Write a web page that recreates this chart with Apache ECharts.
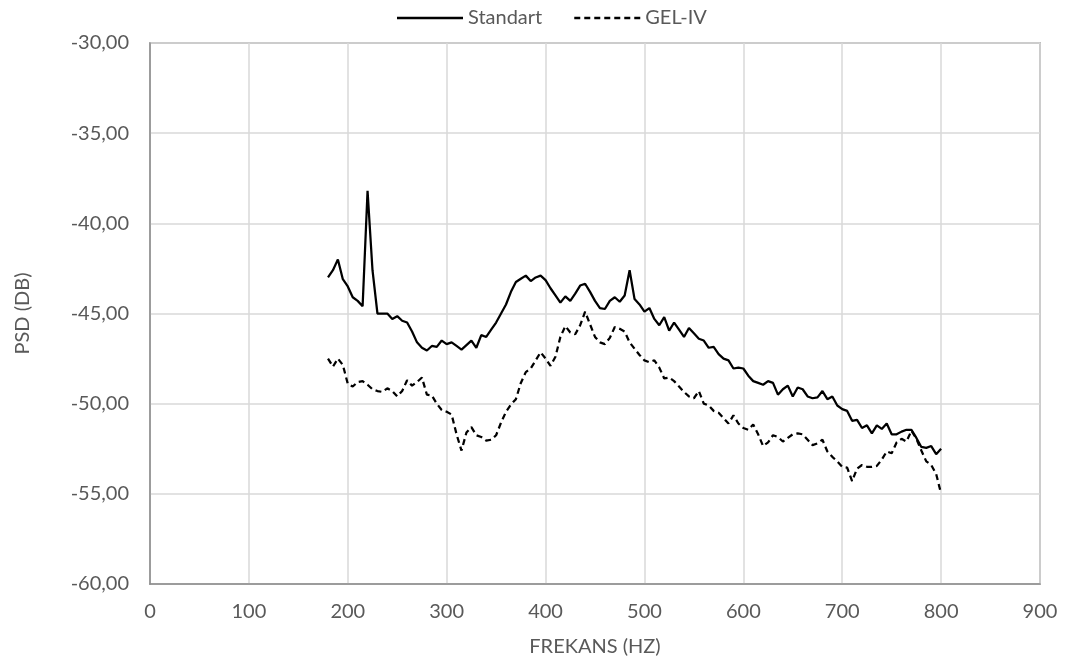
<!DOCTYPE html>
<html><head><meta charset="utf-8">
<script src="https://cdn.jsdelivr.net/npm/echarts@6/dist/echarts.min.js"></script>
<style>html,body{margin:0;padding:0;background:#fff}#c{width:1073px;height:668px}</style>
</head><body><div id="c"></div>
<script>
const seriesNames = ['Standart', 'GEL-IV'];
const freqStart = 180, freqStep = 5;
const standart = [
-43.0,-42.6,-42.0,-43.1,-43.5,-44.1,-44.3,-44.6,-38.2,-42.6,
-45.0,-45.0,-45.0,-45.3,-45.15,-45.4,-45.5,-46.0,-46.6,-46.9,
-47.05,-46.8,-46.85,-46.5,-46.7,-46.6,-46.8,-47.0,-46.75,-46.5,
-46.9,-46.2,-46.3,-45.9,-45.5,-45.0,-44.5,-43.8,-43.25,-43.07,
-42.9,-43.2,-43.0,-42.9,-43.15,-43.6,-44.0,-44.4,-44.05,-44.3,
-43.9,-43.45,-43.35,-43.8,-44.3,-44.7,-44.75,-44.3,-44.1,-44.35,
-44.0,-42.6,-44.2,-44.5,-44.9,-44.7,-45.3,-45.65,-45.2,-45.95,
-45.5,-45.9,-46.3,-45.8,-46.1,-46.4,-46.5,-46.9,-46.85,-47.25,
-47.5,-47.6,-48.05,-48.0,-48.05,-48.45,-48.75,-48.85,-48.95,-48.75,
-48.85,-49.5,-49.2,-49.0,-49.6,-49.1,-49.2,-49.6,-49.7,-49.65,
-49.3,-49.75,-49.6,-50.1,-50.3,-50.4,-50.95,-50.9,-51.35,-51.2,
-51.65,-51.2,-51.4,-51.1,-51.7,-51.7,-51.55,-51.45,-51.45,-51.9,
-52.4,-52.45,-52.35,-52.8,-52.5
];
const gelIV = [
-47.5,-47.95,-47.5,-47.85,-48.9,-49.05,-48.8,-48.75,-48.95,-49.2,
-49.3,-49.35,-49.15,-49.3,-49.6,-49.3,-48.7,-49.0,-48.8,-48.55,
-49.5,-49.55,-50.0,-50.35,-50.45,-50.6,-51.7,-52.6,-51.6,-51.3,
-51.75,-51.85,-52.05,-52.0,-51.75,-51.05,-50.45,-50.05,-49.75,-48.85,
-48.25,-48.05,-47.6,-47.15,-47.5,-47.9,-47.4,-46.3,-45.7,-46.05,
-46.15,-45.65,-44.9,-45.6,-46.3,-46.6,-46.7,-46.35,-45.75,-45.85,
-46.0,-46.6,-46.95,-47.3,-47.6,-47.7,-47.6,-48.0,-48.6,-48.55,
-48.75,-49.05,-49.35,-49.6,-49.7,-49.3,-50.0,-50.1,-50.4,-50.5,
-50.8,-51.1,-50.65,-51.1,-51.35,-51.45,-51.15,-51.7,-52.35,-52.15,
-51.75,-51.85,-52.1,-51.9,-51.7,-51.65,-51.7,-52.0,-52.3,-52.2,
-52.0,-52.65,-52.95,-53.2,-53.5,-53.55,-54.3,-53.6,-53.4,-53.5,
-53.5,-53.45,-53.1,-52.65,-52.75,-52.15,-51.95,-52.1,-51.5,-51.95,
-52.6,-53.2,-53.4,-53.9,-55.0
];
const freqs = standart.map((_, i) => freqStart + i * freqStep);
const xTitle = 'FREKANS (HZ)', yTitle = 'PSD (DB)';

const font = 'Lato, "Open Sans", sans-serif';
const fs = 20;
// legend icons: solid line and dashed line
const solidIcon = 'path://M0,0L66,0L66,2.5L0,2.5Z';
let dashPath = 'path://';
for (let i = 0; i < 7; i++) { const x0 = i * 10; dashPath += `M${x0},0L${x0 + 6},0L${x0 + 6},2.5L${x0},2.5Z`; }
const chart = echarts.init(document.getElementById('c'), null, {renderer: 'canvas'});
chart.setOption({
  animation: false,
  textStyle: {fontFamily: font},
  legend: {
    top: 3, left: 392, itemWidth: 66, itemHeight: 2.5, itemGap: 32,
    textStyle: {color: '#595959', fontSize: fs, fontFamily: font, padding: [0, 0, 0, 0]},
    data: [{name: seriesNames[0], icon: solidIcon}, {name: seriesNames[1], icon: dashPath}]
  },
  grid: {left: 150, right: 33, top: 43, bottom: 84, show: true, borderColor: '#8c8c8c', borderWidth: 1.5},
  xAxis: {
    type: 'value', min: 0, max: 900, interval: 100,
    name: xTitle, nameLocation: 'middle', nameGap: 53,
    nameTextStyle: {color: '#595959', fontSize: fs, fontFamily: font},
    axisLine: {show: true, lineStyle: {color: '#8c8c8c', width: 1.5}},
    axisTick: {show: false},
    axisLabel: {color: '#595959', fontSize: fs, margin: 18, fontFamily: font},
    splitLine: {show: true, lineStyle: {color: '#d9d9d9', width: 1.5}}
  },
  yAxis: {
    type: 'value', min: -60, max: -30, interval: 5,
    name: yTitle, nameLocation: 'middle', nameGap: 117, nameRotate: 90,
    nameTextStyle: {color: '#595959', fontSize: fs, fontFamily: font},
    axisLine: {show: true, lineStyle: {color: '#8c8c8c', width: 1.5}},
    axisTick: {show: false},
    axisLabel: {color: '#595959', fontSize: fs, margin: 21, fontFamily: font,
      formatter: v => v.toFixed(2).replace('.', ',')},
    splitLine: {show: true, lineStyle: {color: '#d9d9d9', width: 1.5}}
  },
  series: [
    {name: seriesNames[0], type: 'line', symbol: 'none', smooth: false,
     data: freqs.map((f, i) => [f, standart[i]]),
     lineStyle: {color: '#000', width: 2.25}, itemStyle: {color: '#000'}},
    {name: seriesNames[1], type: 'line', symbol: 'none', smooth: false,
     data: freqs.map((f, i) => [f, gelIV[i]]),
     lineStyle: {color: '#000', width: 2.25, type: [6, 4]}, itemStyle: {color: '#000'}}
  ]
});
</script></body></html>
